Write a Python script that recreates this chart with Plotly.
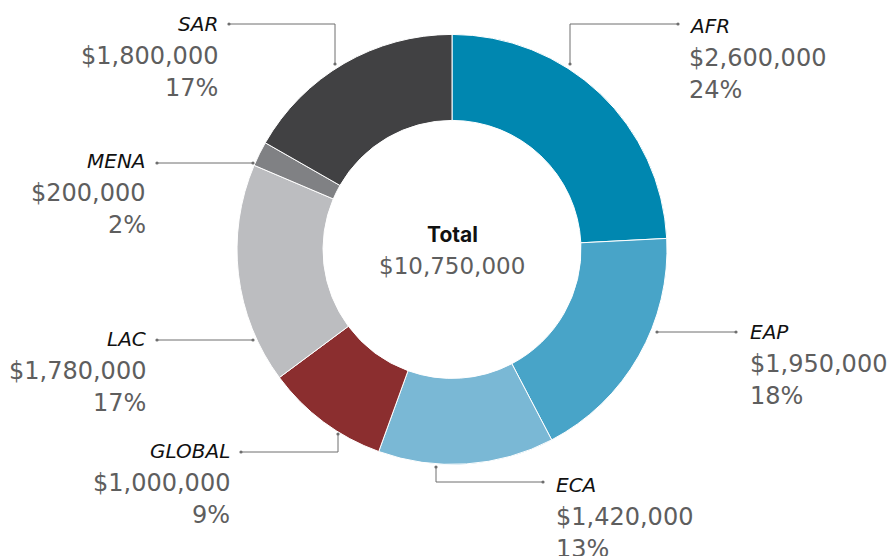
import plotly.graph_objects as go

# ---- data ----
categories = ["AFR", "EAP", "ECA", "GLOBAL", "LAC", "MENA", "SAR"]
values = [2600000, 1950000, 1420000, 1000000, 1780000, 200000, 1800000]
colors = ["#0087b0", "#48a4c8", "#7ab8d5", "#8b2e2f", "#bcbdc0", "#808184", "#414143"]

W, H = 889, 556
total = sum(values)

def px(x):
    return x / W

def py(y):
    return 1 - y / H

# ---- label placement (pixel positions in the final picture; style only) ----
label_layout = {
    "AFR":    dict(x=687, y=26,  side="left",  path=[(570, 64), (570, 24), (678, 24)]),
    "EAP":    dict(x=748, y=332, side="left",  path=[(657, 332), (736, 332)]),
    "ECA":    dict(x=554, y=485, side="left",  path=[(436, 467), (436, 482), (543, 482)]),
    "GLOBAL": dict(x=232, y=451, side="right", path=[(338, 434), (338, 452), (241, 452)]),
    "LAC":    dict(x=148, y=339, side="right", path=[(253, 340), (157, 340)]),
    "MENA":   dict(x=148, y=161, side="right", path=[(253, 163), (157, 163)]),
    "SAR":    dict(x=220, y=24,  side="right", path=[(335, 64), (335, 24), (229, 24)]),
}

cx, cy, R = 452, 249.4, 215

fig = go.Figure(go.Pie(
    labels=categories,
    values=values,
    marker=dict(colors=colors, line=dict(color="white", width=1)),
    hole=0.6,
    sort=False,
    direction="clockwise",
    rotation=0,
    textinfo="none",
    hoverinfo="skip",
    showlegend=False,
    domain=dict(x=[px(cx - R), px(cx + R)], y=[py(cy + R), py(cy - R)]),
))

LINE_COLOR = "#6e6e6e"
VAL_COLOR = "#5e5e5e"
FONT = "DejaVu Sans"

annotations = []
shapes = []
for cat, val in zip(categories, values):
    L = label_layout[cat]
    anchor = "left" if L["side"] == "left" else "right"
    pct = round(val / total * 100)
    lines = [
        (f"<i>{cat}</i>", dict(family=FONT, size=20, color="#111111")),
        (f"${val:,}", dict(family=FONT, size=24, color=VAL_COLOR)),
        (f"{pct}%", dict(family=FONT, size=24, color=VAL_COLOR)),
    ]
    for i, (txt, font) in enumerate(lines):
        annotations.append(dict(
            x=px(L["x"]), y=py(L["y"] + 32 * i), xref="paper", yref="paper",
            text=txt, showarrow=False, xanchor=anchor, yanchor="middle",
            font=font,
        ))
    pts = L["path"]
    path = "M " + " L ".join(f"{px(a)},{py(b)}" for a, b in pts)
    shapes.append(dict(type="path", path=path, xref="paper", yref="paper",
                       line=dict(color=LINE_COLOR, width=1)))
    for (a, b) in (pts[0], pts[-1]):
        r = 1.6
        shapes.append(dict(type="circle", xref="paper", yref="paper",
                           x0=px(a - r), x1=px(a + r), y0=py(b + r), y1=py(b - r),
                           fillcolor=LINE_COLOR, line=dict(width=0)))

annotations.append(dict(x=px(cx), y=py(234), xref="paper", yref="paper",
                        text="<b>Total</b>", showarrow=False, xanchor="center",
                        yanchor="middle", font=dict(family="Inter", size=21, color="#111111")))
annotations.append(dict(x=px(cx), y=py(266), xref="paper", yref="paper",
                        text=f"${total:,}", showarrow=False, xanchor="center",
                        yanchor="middle", font=dict(family=FONT, size=23, color=VAL_COLOR)))

fig.update_layout(
    width=W, height=H,
    margin=dict(l=0, r=0, t=0, b=0),
    paper_bgcolor="white", plot_bgcolor="white",
    annotations=annotations, shapes=shapes,
)

fig.write_html(
    "out.html",
    config={"displayModeBar": False},
    post_script="document.body.style.margin='0';document.body.style.overflow='hidden';",
)
